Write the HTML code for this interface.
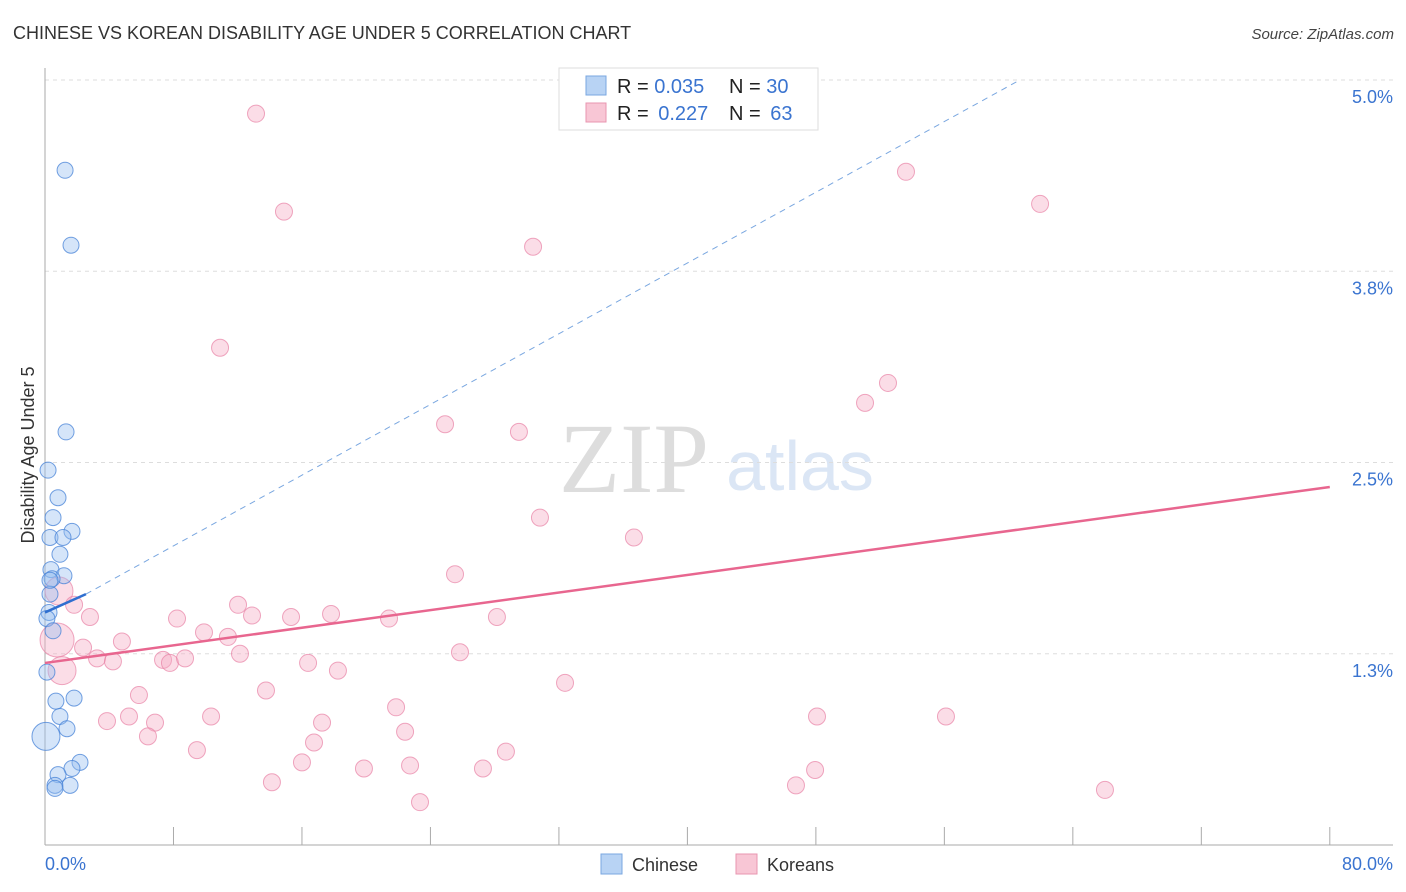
<!DOCTYPE html>
<html><head><meta charset="utf-8"><style>
body{margin:0;background:#fff;font-family:"Liberation Sans",sans-serif;}
#wrap{position:relative;width:1406px;height:892px;overflow:hidden;}
</style></head><body>
<div id="wrap">
<svg id="svg" width="1406" height="892" xmlns="http://www.w3.org/2000/svg">
<text x="13" y="39" font-size="18" fill="#333">CHINESE VS KOREAN DISABILITY AGE UNDER 5 CORRELATION CHART</text>
<text x="1394" y="39" font-size="15" fill="#444" font-style="italic" text-anchor="end">Source: ZipAtlas.com</text>
<text transform="translate(34,455) rotate(-90)" font-size="18" fill="#333" text-anchor="middle">Disability Age Under 5</text>
<text x="634" y="492" font-size="100" fill="#ddd" font-family="Liberation Serif" text-anchor="middle">ZIP</text>
<text x="800" y="490" font-size="70" fill="#dbe6f5" text-anchor="middle">atlas</text>
<g id="grid"></g><g id="axes"></g><g id="pts"></g><g id="trend"></g>
<g>
<rect x="559" y="68" width="259" height="62" fill="#fff" stroke="#ddd"/>
<rect x="586" y="76" width="20" height="19" fill="#b8d3f4" stroke="#7aa7e0"/>
<rect x="586" y="103" width="20" height="19" fill="#f8c6d5" stroke="#e896b0"/>
<text x="617" y="93" font-size="20" fill="#222">R = <tspan fill="#3a74d0">0.035</tspan></text>
<text x="729" y="93" font-size="20" fill="#222">N = <tspan fill="#3a74d0">30</tspan></text>
<text x="617" y="120" font-size="20" fill="#222">R = <tspan fill="#3a74d0" dx="4">0.227</tspan></text>
<text x="729" y="120" font-size="20" fill="#222">N = <tspan fill="#3a74d0" dx="4">63</tspan></text>
</g>
<g>
<rect x="601" y="854" width="21" height="20" fill="#b8d3f4" stroke="#7aa7e0"/>
<text x="632" y="871" font-size="18" fill="#333">Chinese</text>
<rect x="736" y="854" width="21" height="20" fill="#f8c6d5" stroke="#e896b0"/>
<text x="767" y="871" font-size="18" fill="#333">Koreans</text>
</g>
</svg>
</div>
<script>
const yTicks=[5.0,3.75,2.5,1.25];
const yTickLabels=["5.0%","3.8%","2.5%","1.3%"];
const xTickLabels=["0.0%","80.0%"];
const chineseX=[1.25,1.62,1.31,0.19,0.81,0.50,1.68,0.31,1.12,0.93,0.37,1.18,0.44,0.31,0.25,0.12,0.50,0.12,0.68,1.81,0.93,1.37,0.06,2.18,1.68,0.81,0.62,1.56,0.62,0.31];
const chineseY=[4.41,3.92,2.70,2.45,2.27,2.14,2.05,2.01,2.01,1.90,1.80,1.76,1.74,1.64,1.52,1.48,1.40,1.13,0.94,0.96,0.84,0.76,0.71,0.54,0.50,0.46,0.39,0.39,0.37,1.73];
const chineseR=[8,8,8,8,8,8,8,8,8,8,8,8,8,8,8,8,8,8,8,8,8,8,14,8,8,8,8,8,8,8];
const koreanX=[13.14,14.88,30.39,53.61,61.96,10.90,52.49,51.06,24.91,29.51,30.82,36.67,25.53,0.87,1.81,12.02,2.80,8.22,12.89,15.32,17.81,21.42,28.14,4.79,9.90,11.39,0.75,2.37,3.24,4.23,7.35,7.78,8.72,12.14,25.84,16.38,18.24,1.06,5.85,13.76,32.38,3.86,5.23,6.85,10.34,21.86,17.25,6.41,22.42,48.07,56.10,9.46,16.75,28.70,16.00,14.13,19.86,22.73,27.27,47.95,46.76,23.35,66.00];
const koreanY=[4.78,4.14,3.91,4.40,4.19,3.25,3.02,2.89,2.75,2.70,2.14,2.01,1.77,1.66,1.57,1.57,1.49,1.48,1.50,1.49,1.51,1.48,1.49,1.33,1.39,1.36,1.34,1.29,1.22,1.20,1.21,1.19,1.22,1.25,1.26,1.19,1.14,1.14,0.98,1.01,1.06,0.81,0.84,0.80,0.84,0.90,0.80,0.71,0.74,0.84,0.84,0.62,0.67,0.61,0.54,0.41,0.50,0.52,0.50,0.49,0.39,0.28,0.36];
const koreanBig=[13,26,37];
const chineseTrend=[[0,1.52],[2.55,1.64]];
const chineseTrendDash=[[2.55,1.64],[60.7,5.0]];
const koreanTrend=[[0,1.19],[80,2.34]];
const NS="http://www.w3.org/2000/svg";
const X=v=>45+v*16.06, Y=v=>845-v*153;
function mk(tag,attrs,parent){const e=document.createElementNS(NS,tag);for(const k in attrs)e.setAttribute(k,attrs[k]);document.getElementById(parent).appendChild(e);return e;}
yTicks.forEach((t,i)=>{
 const l=mk('line',{x1:45,x2:1393,y1:Y(t),y2:Y(t),stroke:'#ddd','stroke-dasharray':'4,4'},'grid');
 
 
 const tx=mk('text',{x:1393,y:Y(t)+23,'font-size':18,fill:'#3a74d0','text-anchor':'end'},'grid');
 tx.textContent=yTickLabels[i];
 
 
});
let a=mk('line',{x1:45,x2:45,y1:68,y2:845,stroke:'#aaa'},'axes');


a=mk('line',{x1:45,x2:1393,y1:845,y2:845,stroke:'#aaa'},'axes');


for(let i=1;i<=10;i++){const t=mk('line',{x1:X(i*8),x2:X(i*8),y1:827,y2:845,stroke:'#aaa'},'axes');
 
 }
let xl=mk('text',{x:45,y:870,'font-size':18,fill:'#3a74d0'},'axes');xl.textContent=xTickLabels[0];


xl=mk('text',{x:1393,y:870,'font-size':18,fill:'#3a74d0','text-anchor':'end'},'axes');xl.textContent=xTickLabels[1];


koreanX.forEach((v,i)=>{const r=koreanBig.includes(i)?(i===26?17:14):8.5;
 const c=mk('circle',{cx:X(v),cy:Y(koreanY[i]),r:r,fill:'rgba(245,170,195,0.4)',stroke:'rgba(232,130,165,0.7)','stroke-width':1},'pts');
 
 });
chineseX.forEach((v,i)=>{const c=mk('circle',{cx:X(v),cy:Y(chineseY[i]),r:chineseR[i],fill:'rgba(150,190,240,0.4)',stroke:'rgba(70,130,215,0.75)','stroke-width':1},'pts');
 
 });
let t=mk('line',{x1:X(chineseTrendDash[0][0]),y1:Y(chineseTrendDash[0][1]),x2:X(chineseTrendDash[1][0]),y2:Y(chineseTrendDash[1][1]),stroke:'#7aa7e0','stroke-dasharray':'6,5','stroke-width':1},'trend');


t=mk('line',{x1:X(chineseTrend[0][0]),y1:Y(chineseTrend[0][1]),x2:X(chineseTrend[1][0]),y2:Y(chineseTrend[1][1]),stroke:'#2f6fd0','stroke-width':2.5},'trend');


t=mk('line',{x1:X(koreanTrend[0][0]),y1:Y(koreanTrend[0][1]),x2:X(koreanTrend[1][0]),y2:Y(koreanTrend[1][1]),stroke:'#e8668f','stroke-width':2.5},'trend');


</script>
</body></html>
